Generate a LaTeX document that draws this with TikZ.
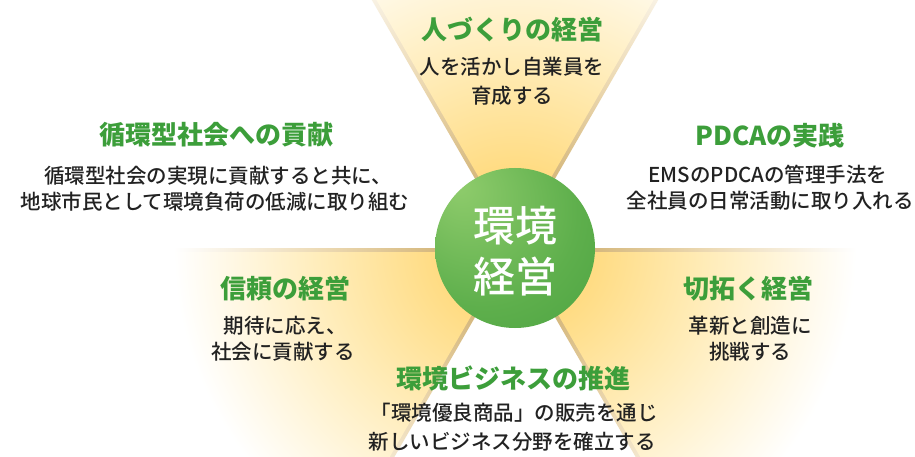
\documentclass[tikz,border=0pt]{standalone}
\usepackage{fontspec}
\newfontfamily\jp{Noto Sans CJK JP}
\IfFontExistsTF{Noto Sans CJK JP Medium}{\newfontfamily\jpm{Noto Sans CJK JP Medium}\newfontfamily\jpc{Noto Sans CJK JP Medium}}{\newfontfamily\jpm{Noto Sans CJK JP}[FakeBold=0.5]\newfontfamily\jpc{Noto Sans CJK JP}[FakeBold=1.2]}
\IfFontExistsTF{Noto Sans CJK JP Black}{\newfontfamily\jpb{Noto Sans CJK JP Black}}{\newcommand\jpb{\jp\bfseries}}
\definecolor{ttlgreen}{HTML}{3C9E3A}
\definecolor{bodyc}{HTML}{222222}
\definecolor{wyel}{HTML}{FFDC84}
\definecolor{wyelm}{HTML}{FFECB8}
\definecolor{wtan}{HTML}{D6B97F}
\definecolor{wtanm}{HTML}{ECD9B2}
\definecolor{gA}{HTML}{8FCC6C}
\definecolor{gB}{HTML}{5EAF4C}
\definecolor{gC}{HTML}{359434}
\pgfdeclareradialshading{yelfade}{\pgfpointorigin}{color(0bp)=(wyel); color(12bp)=(wyel); color(28bp)=(wyelm); color(50bp)=(white)}
\pgfdeclareradialshading{tanfade}{\pgfpointorigin}{color(0bp)=(wtan); color(12bp)=(wtan); color(28bp)=(wtanm); color(50bp)=(white)}
\pgfdeclareradialshading{greenball}{\pgfpoint{-18bp}{20bp}}{color(0bp)=(gA); color(30bp)=(gB); color(70bp)=(gC)}
\tikzset{
  ttl/.style={anchor=base, text=ttlgreen, inner sep=0pt, font=\jpb\fontsize{26}{26}\selectfont},
  bdy/.style={anchor=base, text=bodyc, inner sep=0pt, font=\jpm\fontsize{20.5}{20.5}\selectfont},
  ctr/.style={anchor=base, text=white, inner sep=0pt, font=\jpc\fontsize{42}{42}\selectfont},
  fadebox/.style={inner sep=0pt, outer sep=0pt}
}
\begin{document}
\begin{tikzpicture}[x=1pt,y=-1pt]
\useasboundingbox (0,0) rectangle (915,457);
\fill[white] (0,0) rectangle (915,457);
\coordinate (C) at (515,248);
% top wedge
\begin{scope}
\clip (515,248) -- (715,-98.4) -- (315,-98.4) -- cycle;
\node[fadebox] (f1) at (C) {\scalebox{6.8}{\pgfuseshading{tanfade}}};
\end{scope}
\begin{scope}
\clip (515,240) -- (715,-106.4) -- (315,-106.4) -- cycle;
\node[fadebox] (f2) at (C) {\scalebox{6.8}{\pgfuseshading{yelfade}}};
\end{scope}
% lower-left wedge
\begin{scope}
\clip (515,248) -- (115,248) -- (315,594.4) -- cycle;
\node[fadebox] (f3) at (C) {\scalebox{6.8}{\pgfuseshading{tanfade}}};
\end{scope}
\begin{scope}
\clip (508.07,252) -- (108.07,252) -- (308.07,598.4) -- cycle;
\node[fadebox] (f4) at (C) {\scalebox{6.8}{\pgfuseshading{yelfade}}};
\end{scope}
% lower-right wedge
\begin{scope}
\clip (515,248) -- (915,248) -- (715,594.4) -- cycle;
\node[fadebox] (f5) at (C) {\scalebox{6.8}{\pgfuseshading{tanfade}}};
\end{scope}
\begin{scope}
\clip (521.93,252) -- (921.93,252) -- (721.93,598.4) -- cycle;
\node[fadebox] (f6) at (C) {\scalebox{6.8}{\pgfuseshading{yelfade}}};
\end{scope}
% center circle
\shade[shading=greenball] (C) circle (80pt);
\node[ctr] (c1) at (515,241) {環境};
\node[ctr] (c2) at (515,292) {経営};
% top
\node[ttl] (t1) at (512,39.5) {人づくりの経営};
\node[bdy] (t1a) at (512,74.6) {人を活かし自業員を};
\node[bdy] (t1b) at (512,103.6) {育成する};
% upper left
\node[ttl] (t2) at (216,144.5) {循環型社会への貢献};
\node[bdy] (t2a) at (218,183.6) {循環型社会の実現に貢献すると共に、};
\node[bdy] (t2b) at (215,209.6) {地球市民として環境負荷の低減に取り組む};
% upper right
\node[ttl] (t3) at (770,145.5) {PDCAの実践};
\node[bdy] (t3a) at (768,182.6) {EMSのPDCAの管理手法を};
\node[bdy] (t3b) at (770,208.6) {全社員の日常活動に取り入れる};
% lower left
\node[ttl] (t4) at (285,298.5) {信頼の経営};
\node[bdy] (t4a) at (285,333.6) {期待に応え、};
\node[bdy] (t4b) at (283,359.6) {社会に貢献する};
% lower right
\node[ttl] (t5) at (748,298.5) {切拓く経営};
\node[bdy] (t5a) at (750,333.6) {革新と創造に};
\node[bdy] (t5b) at (750,359.6) {挑戦する};
% bottom
\node[ttl] (t6) at (513,388.5) {環境ビジネスの推進};
\node[bdy] (t6a) at (514,420.6) {「環境優良商品」の販売を通じ};
\node[bdy] (t6b) at (512,449.6) {新しいビジネス分野を確立する};
\end{tikzpicture}
\end{document}
